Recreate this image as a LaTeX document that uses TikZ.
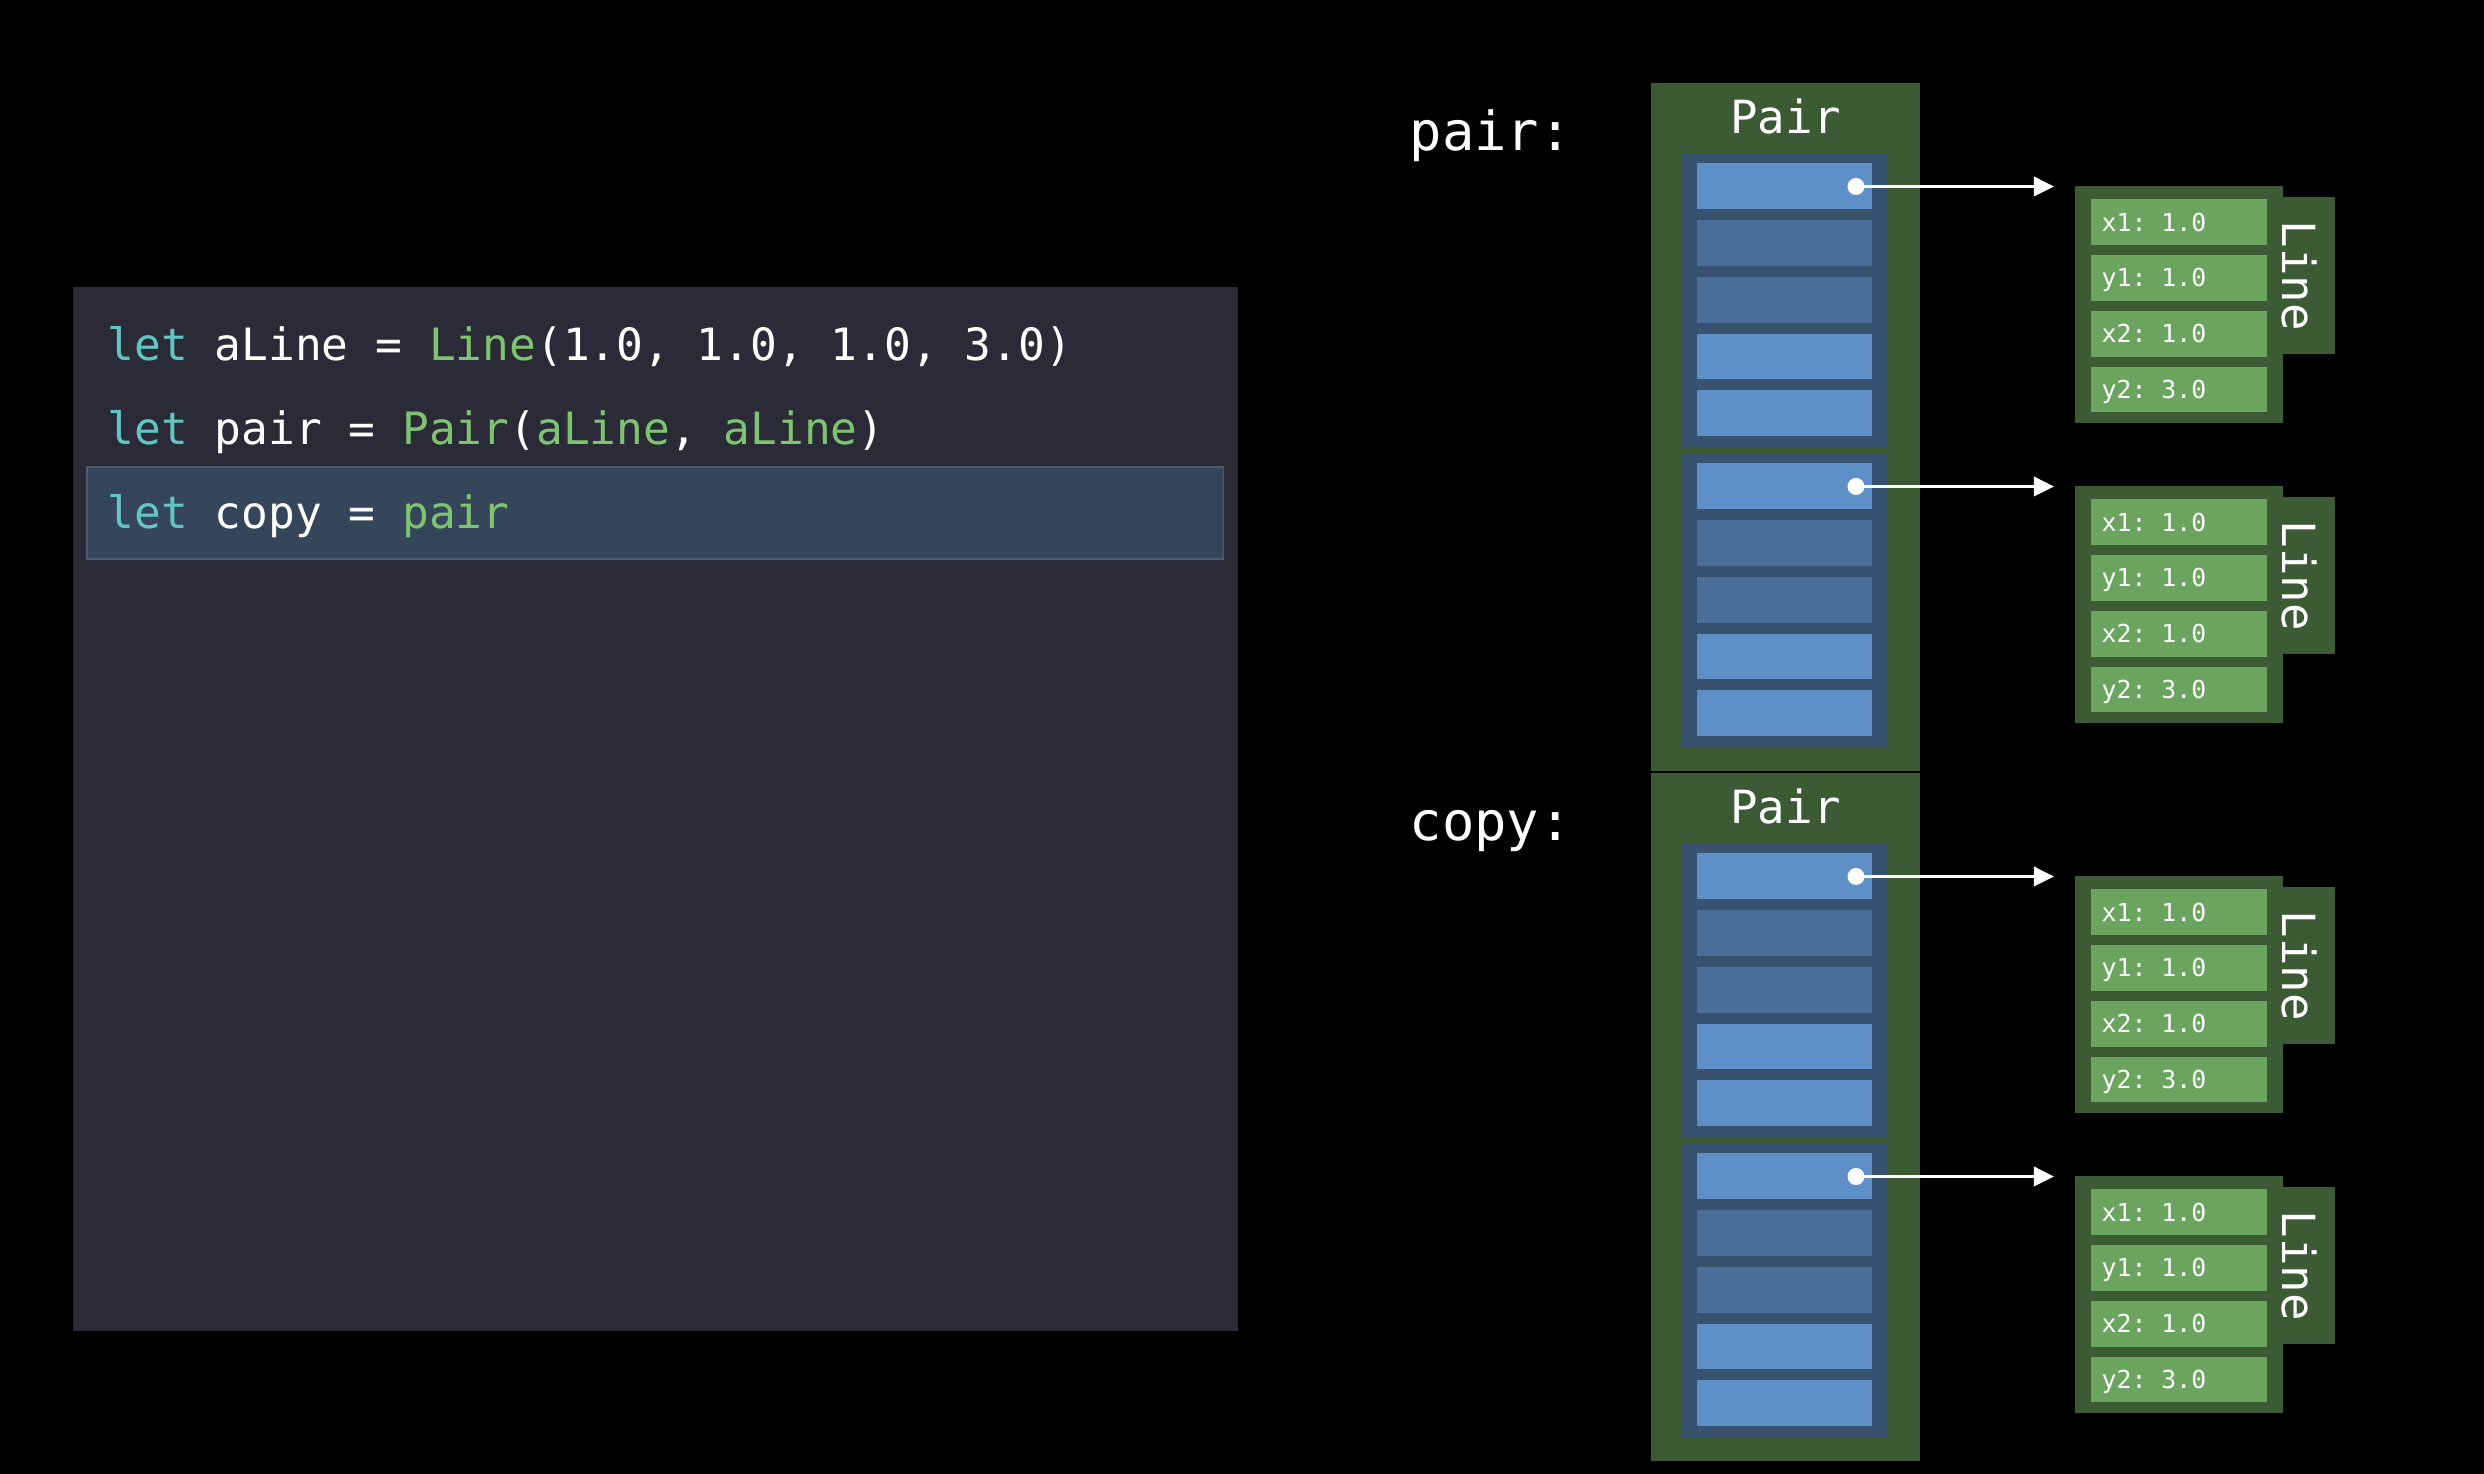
\documentclass[tikz,border=0pt]{standalone}
\usepackage{fontspec}
\setmonofont{DejaVu Sans Mono}
\usetikzlibrary{arrows.meta,positioning}

\definecolor{codebg}{RGB}{43,43,55}
\definecolor{hlbg}{RGB}{53,70,90}
\definecolor{hlline}{RGB}{76,92,118}
\definecolor{kwcol}{RGB}{99,196,196}
\definecolor{tycol}{RGB}{126,196,112}
\definecolor{pairgreen}{RGB}{60,90,52}
\definecolor{grpblue}{RGB}{55,81,111}
\definecolor{cellbright}{RGB}{94,143,199}
\definecolor{celldark}{RGB}{74,110,154}
\definecolor{fldgreen}{RGB}{106,164,94}

\newcommand{\kw}[1]{\textcolor{kwcol}{#1}}
\newcommand{\ty}[1]{\textcolor{tycol}{#1}}

\tikzset{
  box/.style={inner sep=0,outer sep=0,anchor=north west},
  pairbox/.style={box,fill=pairgreen,minimum width=2.69cm,minimum height=6.88cm},
  grpbox/.style={box,fill=grpblue,minimum width=2.07cm,minimum height=2.94cm},
  slot/.style={box,minimum width=1.75cm,minimum height=0.457cm},
  linebox/.style={box,fill=pairgreen,minimum width=2.08cm,minimum height=2.36cm},
  tabbox/.style={box,fill=pairgreen,minimum width=0.55cm,minimum height=1.56cm},
  fieldbox/.style={box,fill=fldgreen,minimum width=1.76cm,minimum height=0.457cm},
  dot/.style={circle,fill=white,inner sep=0,minimum size=0.17cm},
  ptr/.style={draw=white,line width=0.035cm,-{Triangle[length=0.2cm,width=0.19cm]},shorten >=0.21cm},
  codeline/.style={anchor=base west,inner sep=0,text=white,font=\ttfamily\fontsize{12.65}{15}\selectfont},
  varname/.style={anchor=base west,inner sep=0,text=white,font=\ttfamily\fontsize{15.3}{18}\selectfont},
  typename/.style={anchor=base,inner sep=0,text=white,font=\ttfamily\fontsize{13}{15}\selectfont},
  fieldtext/.style={anchor=base west,inner sep=0,text=white,font=\ttfamily\fontsize{7.05}{9}\selectfont}
}

\begin{document}
\begin{tikzpicture}[x=0.01cm,y=-0.01cm]

  \fill[black] (0,0) rectangle (2484,1474);
  \useasboundingbox (0,0) rectangle (2484,1474);

  % code panel
  \node[box,fill=codebg,minimum width=11.64cm,minimum height=10.43cm] (panel) at (73,287) {};
  \node[box,fill=hlbg,draw=hlline,line width=0.4pt,minimum width=11.36cm,minimum height=0.92cm] (highlight) at (87,467) {};
  \node[codeline] (code1) at (107,361) {\kw{let} aLine = \ty{Line}(1.0, 1.0, 1.0, 3.0)};
  \node[codeline] (code2) at (107,445) {\kw{let} pair = \ty{Pair}(\ty{aLine}, \ty{aLine})};
  \node[codeline] (code3) at (107,529) {\kw{let} copy = \ty{pair}};

  % variables
  \node[varname] (var0) at (1409,151) {pair:};
  \node[varname] (var1) at (1409,841) {copy:};

  \foreach \k in {0,1} {
    \pgfmathsetmacro\dy{690*\k}
    \node[pairbox] (pair\k) at (1651,83+\dy) {};
    \node[typename] (pairlabel\k) at (1785.5,134+\dy) {Pair};

    \foreach \g in {0,1} {
      \pgfmathsetmacro\gy{153+300*\g+\dy}
      \node[grpbox] (grp-\k-\g) at (1681,\gy) {};
      \foreach \i/\c in {0/cellbright,1/celldark,2/celldark,3/cellbright,4/cellbright}
        \node[slot,fill=\c] (cell-\k-\g-\i) at (1697,\gy+10.5+56.7*\i) {};

      % the Line value it points to
      \pgfmathsetmacro\ly{\gy+33.5}
      \node[tabbox] (tab-\k-\g) at (2280,\ly+11) {};
      \node[linebox] (line-\k-\g) at (2075,\ly) {};
      \node[typename,anchor=center,rotate=-90] (linelabel-\k-\g) at (2300,\ly+89.5) {Line};
      \foreach \j/\t in {0/x1: 1.0,1/y1: 1.0,2/x2: 1.0,3/y2: 3.0} {
        \node[fieldbox] (fld-\k-\g-\j) at (2091,\ly+13+55.7*\j) {};
        \node[fieldtext] (ftxt-\k-\g-\j) at (2101,\ly+44.7+55.7*\j) {\t};
      }

      \node[dot] (dot-\k-\g) at (1856,\ly) {};
      \draw[ptr] (dot-\k-\g.center) -- (dot-\k-\g.center -| line-\k-\g.west);
    }
  }

\end{tikzpicture}
\end{document}
